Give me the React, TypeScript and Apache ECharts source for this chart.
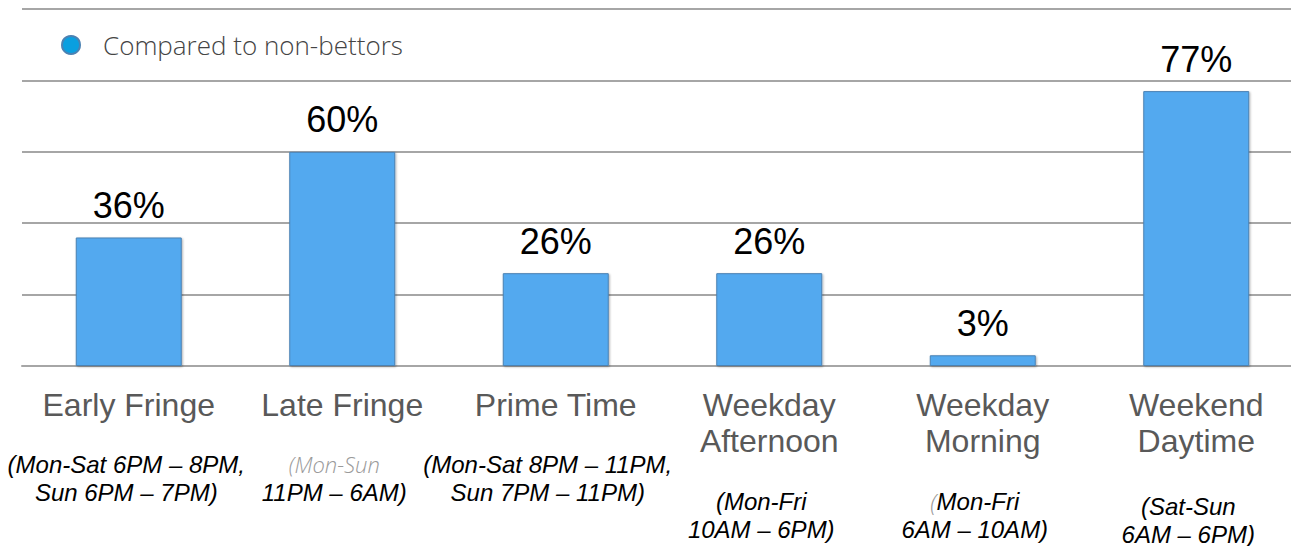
import React, { useEffect, useRef } from "react";
import * as echarts from "echarts";

// Daypart categories, their share and the time windows shown under each name
const categories = [
  "Early Fringe",
  "Late Fringe",
  "Prime Time",
  "Weekday\nAfternoon",
  "Weekday\nMorning",
  "Weekend\nDaytime",
];
const values = [36, 60, 26, 26, 3, 77];
const timeWindows = [
  ["(Mon-Sat 6PM – 8PM,", "Sun 6PM – 7PM)"],
  ["(Mon-Sun", "11PM – 6AM)"],
  ["(Mon-Sat 8PM – 11PM,", "Sun 7PM – 11PM)"],
  ["(Mon-Fri", "10AM – 6PM)"],
  ["(Mon-Fri", "6AM – 10AM)"],
  ["(Sat-Sun", "6AM – 6PM)"],
];
const seriesName = "Compared to non-bettors";
const yTicks = [0, 20, 40, 60, 80, 100];

// Vertical gap between the daypart name and its time window
const gapStyleFor = (i: number) => (i === 5 ? "g33" : i >= 3 ? "g28" : "g27");

function buildLabel(value: string): string {
  const i = categories.indexOf(value);
  const nameLines = value.split("\n").map((l) => `{name|${l}}`);
  const [w1, w2] = timeWindows[i];
  let first: string;
  if (i === 1) {
    first = `{light|${w1}}`;
  } else if (i === 4) {
    first = `{lightP|(}{sub|${w1.slice(1)}}`;
  } else {
    first = `{${i === 0 ? "subE" : "sub"}|${w1}}`;
  }
  const second = `{${i === 0 ? "subE" : "sub"}|${w2}}`;
  return [...nameLines, `{${gapStyleFor(i)}| }`, first, second].join("\n");
}

export default function App() {
  const ref = useRef<HTMLDivElement>(null);

  useEffect(() => {
    if (!ref.current) return;
    const chart = echarts.init(ref.current, undefined, { renderer: "svg" });
    const subBase = {
      fontFamily: "Liberation Sans",
      fontStyle: "italic" as const,
      fontSize: 24,
      color: "#000000",
      lineHeight: 28,
    };
    chart.setOption({
      animation: false,
      backgroundColor: "#ffffff",
      legend: {
        left: 56,
        top: 27,
        icon: "circle",
        itemWidth: 18,
        itemHeight: 18,
        selectedMode: false,
        data: [{ name: seriesName, itemStyle: { color: "#0a9fe0" } }],
        textStyle: {
          fontFamily: "Open Sans",
          fontWeight: 300,
          fontSize: 26,
          color: "#444444",
          padding: [0, 0, 0, 18],
        },
      },
      grid: { left: 22, width: 1281, top: 9, height: 359 },
      xAxis: {
        type: "category",
        data: categories,
        axisTick: { show: false },
        axisLine: { lineStyle: { color: "#a6a6a6", width: 2 } },
        axisLabel: {
          interval: 0,
          margin: 21,
          formatter: buildLabel,
          rich: {
            name: {
              fontFamily: "Liberation Sans",
              fontSize: 32,
              color: "#595959",
              lineHeight: 36,
            },
            g27: { fontSize: 1, lineHeight: 27 },
            g28: { fontSize: 1, lineHeight: 28 },
            g33: { fontSize: 1, lineHeight: 33 },
            sub: { ...subBase, padding: [0, 16, 0, 0] },
            subE: { ...subBase, padding: [0, 5, 0, 0] },
            light: {
              fontFamily: "Open Sans",
              fontWeight: 300,
              fontStyle: "italic",
              fontSize: 22,
              color: "#9a9a9a",
              lineHeight: 28,
              padding: [0, 16, 0, 0],
            },
            lightP: {
              fontFamily: "Open Sans",
              fontWeight: 300,
              fontStyle: "italic",
              fontSize: 24,
              color: "#9a9a9a",
              lineHeight: 28,
            },
          },
        },
      },
      yAxis: {
        type: "value",
        min: yTicks[0],
        max: yTicks[yTicks.length - 1],
        interval: yTicks[1] - yTicks[0],
        axisLabel: { show: false },
        axisLine: { show: false },
        axisTick: { show: false },
        splitLine: { lineStyle: { color: "#a6a6a6", width: 2 } },
      },
      series: [
        {
          name: seriesName,
          type: "bar",
          data: values,
          barWidth: 106,
          itemStyle: {
            color: "#53a9ef",
            borderColor: "#4b82b3",
            borderWidth: 1,
            shadowColor: "rgba(0,0,0,0.3)",
            shadowBlur: 2,
            shadowOffsetX: 1,
            shadowOffsetY: 1,
          },
          label: {
            show: true,
            position: "top",
            distance: 14,
            formatter: "{c}%",
            fontFamily: "Liberation Sans",
            fontSize: 36,
            color: "#000000",
          },
        },
      ],
    });
    return () => chart.dispose();
  }, []);

  // The plot runs slightly past the right edge, so the chart is wider than its clipped frame
  return (
    <div
      style={{
        position: "absolute",
        left: 0,
        top: 0,
        width: 1291,
        height: 546,
        overflow: "hidden",
      }}
    >
      <div ref={ref} style={{ width: 1310, height: 546 }} />
    </div>
  );
}
